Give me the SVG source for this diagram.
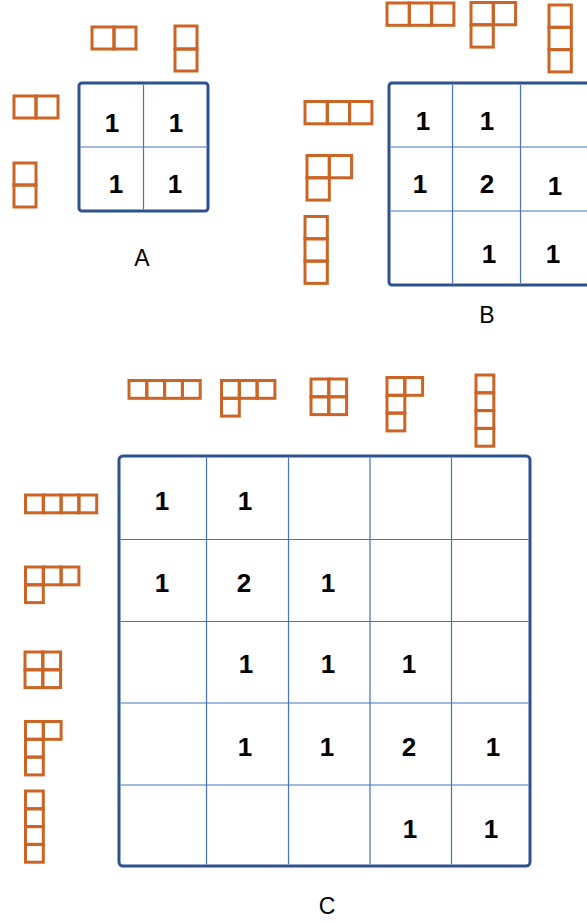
<svg xmlns="http://www.w3.org/2000/svg" width="587" height="923" viewBox="0 0 587 923">
<style>
.t{fill:none;stroke:#CB6424;stroke-width:3}
.b{fill:#fff;stroke:#2F528F;stroke-width:3}
.g{stroke:#4472C4;stroke-width:1.2}
.n{font-family:"Liberation Sans",Arial,sans-serif;font-weight:bold;font-size:26px;fill:#000;text-anchor:middle}
.l{font-family:"Liberation Sans",Arial,sans-serif;font-size:23px;fill:#000;text-anchor:middle}
</style>
<rect width="587" height="923" fill="#fff"/>

<!-- Panel A -->
<g id="panel-a">
  <g id="a-tiles">
    <rect class="t" x="92" y="27" width="22" height="22"/><rect class="t" x="114" y="27" width="22" height="22"/>
    <rect class="t" x="175" y="26" width="22" height="23"/><rect class="t" x="175" y="49" width="22" height="22"/>
    <rect class="t" x="14" y="96" width="22" height="22"/><rect class="t" x="36" y="96" width="22" height="22"/>
    <rect class="t" x="14" y="163" width="22" height="22"/><rect class="t" x="14" y="185" width="22" height="22"/>
  </g>
  <g id="a-grid">
    <rect class="b" x="79" y="83" width="129" height="128" rx="3"/>
    <line class="g" x1="143.5" y1="84.5" x2="143.5" y2="209.5"/>
    <line class="g" x1="80.5" y1="147" x2="206.5" y2="147"/>
    <text class="n" x="112" y="131.5">1</text><text class="n" x="176" y="131.5">1</text>
    <text class="n" x="116" y="192.5">1</text><text class="n" x="175" y="192.5">1</text>
  </g>
  <text class="l" x="142" y="266">A</text>
</g>

<!-- Panel B -->
<g id="panel-b">
  <g id="b-tiles">
    <rect class="t" x="387" y="3" width="22.3" height="22.3"/><rect class="t" x="409.3" y="3" width="22.3" height="22.3"/><rect class="t" x="431.6" y="3" width="22.3" height="22.3"/>
    <rect class="t" x="471" y="2.5" width="22.3" height="22.3"/><rect class="t" x="493.3" y="2.5" width="22.3" height="22.3"/><rect class="t" x="471" y="24.8" width="22.3" height="22.3"/>
    <rect class="t" x="549" y="5" width="22.3" height="22.3"/><rect class="t" x="549" y="27.3" width="22.3" height="22.3"/><rect class="t" x="549" y="49.6" width="22.3" height="22.3"/>
    <rect class="t" x="305" y="101.5" width="22.3" height="22.3"/><rect class="t" x="327.3" y="101.5" width="22.3" height="22.3"/><rect class="t" x="349.6" y="101.5" width="22.3" height="22.3"/>
    <rect class="t" x="307" y="155.5" width="22.3" height="22.3"/><rect class="t" x="329.3" y="155.5" width="22.3" height="22.3"/><rect class="t" x="307" y="177.8" width="22.3" height="22.3"/>
    <rect class="t" x="305" y="216.5" width="22.3" height="22.3"/><rect class="t" x="305" y="238.8" width="22.3" height="22.3"/><rect class="t" x="305" y="261.1" width="22.3" height="22.3"/>
  </g>
  <g id="b-grid">
    <rect class="b" x="389" y="83" width="202" height="202" rx="3"/>
    <line class="g" x1="452.5" y1="84.5" x2="452.5" y2="283.5"/>
    <line class="g" x1="520.5" y1="84.5" x2="520.5" y2="283.5"/>
    <line class="g" x1="390.5" y1="147" x2="589" y2="147"/>
    <line class="g" x1="390.5" y1="211" x2="589" y2="211"/>
    <text class="n" x="423" y="129.5">1</text><text class="n" x="487" y="129.5">1</text>
    <text class="n" x="420" y="192.5">1</text><text class="n" x="487" y="192.5">2</text><text class="n" x="555" y="194.5">1</text>
    <text class="n" x="489" y="262.5">1</text><text class="n" x="553" y="262.5">1</text>
  </g>
  <text class="l" x="487" y="323">B</text>
</g>

<!-- Panel C -->
<g id="panel-c">
  <g id="c-tiles">
    <rect class="t" x="129" y="380.5" width="17.8" height="17.8"/><rect class="t" x="146.8" y="380.5" width="17.8" height="17.8"/><rect class="t" x="164.6" y="380.5" width="17.8" height="17.8"/><rect class="t" x="182.4" y="380.5" width="17.8" height="17.8"/>
    <rect class="t" x="221.5" y="380.5" width="17.8" height="17.8"/><rect class="t" x="239.3" y="380.5" width="17.8" height="17.8"/><rect class="t" x="257.1" y="380.5" width="17.8" height="17.8"/><rect class="t" x="221.5" y="398.3" width="17.8" height="17.8"/>
    <rect class="t" x="311" y="379" width="17.8" height="17.8"/><rect class="t" x="328.8" y="379" width="17.8" height="17.8"/><rect class="t" x="311" y="396.8" width="17.8" height="17.8"/><rect class="t" x="328.8" y="396.8" width="17.8" height="17.8"/>
    <rect class="t" x="387" y="377.5" width="17.8" height="17.8"/><rect class="t" x="404.8" y="377.5" width="17.8" height="17.8"/><rect class="t" x="387" y="395.3" width="17.8" height="17.8"/><rect class="t" x="387" y="413.1" width="17.8" height="17.8"/>
    <rect class="t" x="476" y="375" width="17.8" height="17.8"/><rect class="t" x="476" y="392.8" width="17.8" height="17.8"/><rect class="t" x="476" y="410.6" width="17.8" height="17.8"/><rect class="t" x="476" y="428.4" width="17.8" height="17.8"/>
    <rect class="t" x="25.5" y="495" width="17.8" height="17.8"/><rect class="t" x="43.3" y="495" width="17.8" height="17.8"/><rect class="t" x="61.1" y="495" width="17.8" height="17.8"/><rect class="t" x="78.9" y="495" width="17.8" height="17.8"/>
    <rect class="t" x="25.5" y="567" width="17.8" height="17.8"/><rect class="t" x="43.3" y="567" width="17.8" height="17.8"/><rect class="t" x="61.1" y="567" width="17.8" height="17.8"/><rect class="t" x="25.5" y="584.8" width="17.8" height="17.8"/>
    <rect class="t" x="25" y="652" width="17.8" height="17.8"/><rect class="t" x="42.8" y="652" width="17.8" height="17.8"/><rect class="t" x="25" y="669.8" width="17.8" height="17.8"/><rect class="t" x="42.8" y="669.8" width="17.8" height="17.8"/>
    <rect class="t" x="25.5" y="721.5" width="17.8" height="17.8"/><rect class="t" x="43.3" y="721.5" width="17.8" height="17.8"/><rect class="t" x="25.5" y="739.3" width="17.8" height="17.8"/><rect class="t" x="25.5" y="757.1" width="17.8" height="17.8"/>
    <rect class="t" x="25.5" y="791" width="17.8" height="17.8"/><rect class="t" x="25.5" y="808.8" width="17.8" height="17.8"/><rect class="t" x="25.5" y="826.6" width="17.8" height="17.8"/><rect class="t" x="25.5" y="844.4" width="17.8" height="17.8"/>
  </g>
  <g id="c-grid">
    <rect class="b" x="119" y="456" width="411" height="410" rx="4"/>
    <line class="g" x1="206.5" y1="457.5" x2="206.5" y2="864.5"/>
    <line class="g" x1="288.5" y1="457.5" x2="288.5" y2="864.5"/>
    <line class="g" x1="370" y1="457.5" x2="370" y2="864.5"/>
    <line class="g" x1="451.5" y1="457.5" x2="451.5" y2="864.5"/>
    <line class="g" x1="120.5" y1="539.5" x2="528.5" y2="539.5"/>
    <line class="g" x1="120.5" y1="621.5" x2="528.5" y2="621.5"/>
    <line class="g" x1="120.5" y1="703" x2="528.5" y2="703"/>
    <line class="g" x1="120.5" y1="785" x2="528.5" y2="785"/>
    <text class="n" x="162" y="509.5">1</text><text class="n" x="245" y="509.5">1</text>
    <text class="n" x="162" y="591.5">1</text><text class="n" x="244" y="591.5">2</text><text class="n" x="328" y="591.5">1</text>
    <text class="n" x="246" y="672.5">1</text><text class="n" x="328" y="672.5">1</text><text class="n" x="409" y="672.5">1</text>
    <text class="n" x="245" y="755.5">1</text><text class="n" x="327" y="755.5">1</text><text class="n" x="409" y="755.5">2</text><text class="n" x="493" y="755.5">1</text>
    <text class="n" x="410" y="837.5">1</text><text class="n" x="491" y="837.5">1</text>
  </g>
  <text class="l" x="327" y="914">C</text>
</g>
</svg>
